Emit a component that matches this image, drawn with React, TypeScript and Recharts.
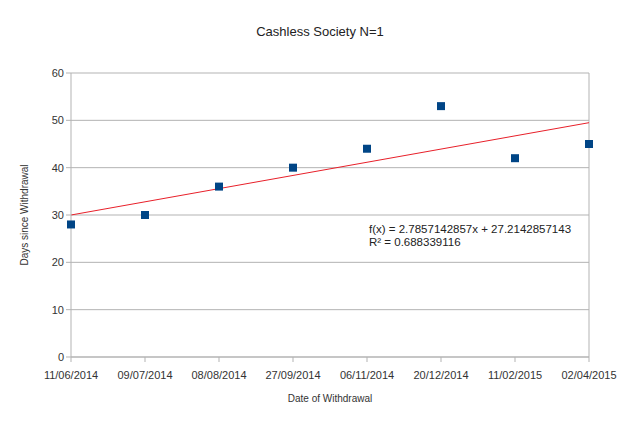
import { ComposedChart, Scatter, XAxis, YAxis, ZAxis, CartesianGrid, ReferenceLine } from "recharts";

const dates = [
  "11/06/2014",
  "09/07/2014",
  "08/08/2014",
  "27/09/2014",
  "06/11/2014",
  "20/12/2014",
  "11/02/2015",
  "02/04/2015",
];
const positions = [1, 2, 3, 4, 5, 6, 7, 8];
const days = [28, 30, 36, 40, 44, 53, 42, 45];
const yTicks = [0, 10, 20, 30, 40, 50, 60];

// trend line end points
const trendX = [1, 8];
const trendY = [30.0, 49.5];

const points = positions.map((x, i) => ({ x, y: days[i] }));

const FONT = "'Liberation Sans', Arial, sans-serif";
const BLUE = "#004586";
const GRID = "#b3b3b3";
const TEXT = "#333";

export default function App() {
  return (
    <div style={{ position: "fixed", left: 0, top: 0, width: 640, height: 421, background: "#fff", fontFamily: FONT }}>
      <div style={{ position: "absolute", top: 24, left: 0, width: 640, textAlign: "center", fontSize: 13, color: "#222" }}>
        Cashless Society N=1
      </div>
      <ComposedChart width={640} height={421} margin={{ top: 73, right: 51, bottom: 30, left: 41 }}>
        <CartesianGrid stroke={GRID} vertical={false} />
        <XAxis
          type="number"
          dataKey="x"
          domain={[1, 8]}
          ticks={positions}
          tickFormatter={(v: number) => dates[v - 1]}
          interval={0}
          stroke={GRID}
          tick={{ fill: TEXT, fontSize: 11, fontFamily: FONT }}
          tickSize={5}
          tickMargin={9}
          height={34}
          label={{ value: "Date of Withdrawal", position: "insideBottom", offset: -11, fill: TEXT, fontSize: 10, fontFamily: FONT }}
        />
        <YAxis
          type="number"
          dataKey="y"
          domain={[0, 60]}
          ticks={yTicks}
          interval={0}
          stroke={GRID}
          tick={{ fill: TEXT, fontSize: 11, fontFamily: FONT }}
          tickSize={5}
          width={30}
          label={{ value: "Days since Withdrawal", angle: -90, position: "insideLeft", offset: -17, fill: TEXT, fontSize: 10, fontFamily: FONT, style: { textAnchor: "middle" } }}
        />
        <ZAxis range={[110, 110]} />
        <ReferenceLine x={8} stroke={GRID} />
        <ReferenceLine
          segment={[
            { x: trendX[0], y: trendY[0] },
            { x: trendX[1], y: trendY[1] },
          ]}
          stroke="#e8202a"
          strokeWidth={1}
        />
        <Scatter data={points} fill={BLUE} shape="square" isAnimationActive={false} />
      </ComposedChart>
      <div style={{ position: "absolute", left: 369, top: 223, fontSize: 11.5, color: "#222", lineHeight: "13px" }}>
        f(x) = 2.7857142857x + 27.2142857143
        <br />
        R² = 0.688339116
      </div>
    </div>
  );
}
